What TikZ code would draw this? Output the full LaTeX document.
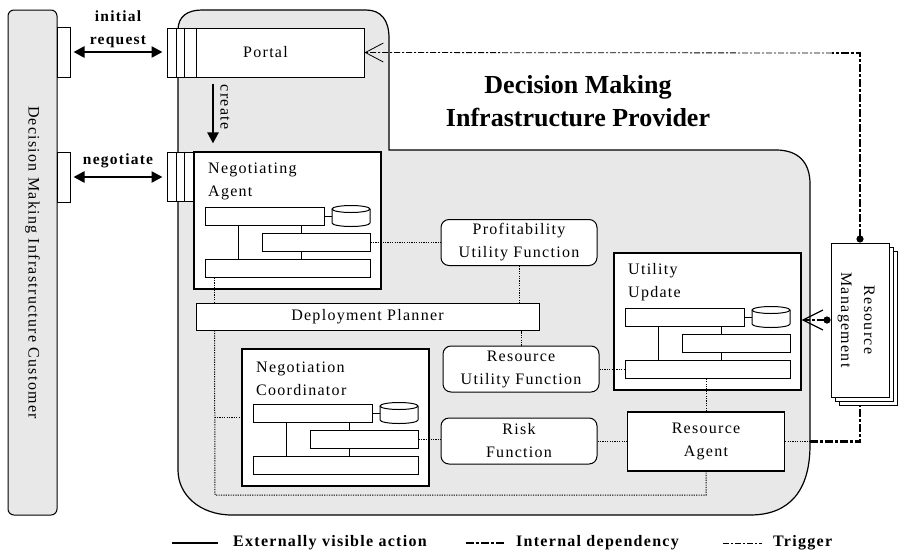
\documentclass[tikz,border=0pt]{standalone}
\usepackage{fontspec}
\setmainfont{Liberation Serif}[LetterSpace=8]
\newfontfamily\headfont{Liberation Serif}
\usepackage{tikz}
\usetikzlibrary{arrows.meta, positioning, shadows, calc}
\definecolor{panel}{HTML}{E8E8E8}

\begin{document}
\begin{tikzpicture}
  [
    x=1pt, y=-1pt,
    every node/.style={font=\fontsize{16}{23}\selectfont},
    Box/.style={draw, fill=white, line width=1pt, inner sep=0pt},
    Port/.style={Box, minimum width=13pt, minimum height=50pt},
    Func/.style={Box, rounded corners=8pt, minimum width=156pt, minimum height=46pt, align=center},
    Bar/.style={Box, minimum height=18pt},
    Label/.style={font=\fontsize{15.5}{23}\selectfont\bfseries, align=center, inner sep=0pt},
    Action/.style={line width=2.5pt, {Triangle[length=11pt,width=11pt]}-{Triangle[length=11pt,width=11pt]}},
    Depend/.style={line width=1pt, dash pattern=on 1.2pt off 1.2pt},
    Internal/.style={line width=2.5pt, dash pattern=on 8pt off 2pt on 3pt off 2pt},
    Trigger/.style={line width=0.8pt, dash pattern=on 6pt off 2pt on 2pt off 2pt},
    pics/component/.style={code={
      \node[Box, line width=1.2pt, minimum width=187pt, minimum height=137pt] (-box) at (93.5,68.5) {};
      \node[align=left, anchor=west, inner sep=0pt] (-name) at (14,29.5) {#1};
      \node[Bar, minimum width=119pt] (-bar1) at (70.5,64) {};
      \node[Bar, minimum width=108pt] (-bar2) at (122,90) {};
      \node[Bar, minimum width=165pt] (-bar3) at (93.5,116) {};
      % store
      \draw[line width=1pt, fill=white] (138,57) -- (138,71) arc[start angle=180, end angle=0, x radius=19, y radius=3.5] -- (176,57);
      \draw[line width=1pt, fill=white] (157,57) ellipse[x radius=19, y radius=3.5];
      % links between the parts
      \draw[line width=1pt] (130,64) -- (138,64);
      \draw[line width=1pt] (44,73) -- (44,107);
      \draw[line width=1pt] (107,73) -- (107,81) (107,99) -- (107,107);
    }}
  ]
  \useasboundingbox (0,0) rectangle (901,552);

  % Provider area
  \draw[fill=panel, line width=1.2pt] (178,470) -- (178,30)
    .. controls (178,16) and (188,10) .. (202,10) -- (366,10)
    .. controls (381,10) and (389,20) .. (389,38) -- (389,150) -- (776,150)
    .. controls (798,150) and (810,162) .. (810,184) -- (810,445)
    .. controls (810,490) and (790,515) .. (750,515) -- (232,515)
    .. controls (200,515) and (178,495) .. (178,470) -- cycle;
  \node[font=\fontsize{26}{33}\selectfont\headfont\bfseries, align=center] (provtitle) at (578,101) {Decision Making\\Infrastructure Provider};

  % Customer
  \node[draw, fill=panel, line width=1pt, rounded corners=6pt, rotate=-90, minimum width=505pt, minimum height=49pt, inner sep=0pt] (customer) at (32.5,262.5) {Decision Making Infrastructure Customer};
  \node[Port] (cport1) at (63.5,52) {};
  \node[Port] (cport2) at (63.5,177) {};

  % Nodes (x, y)
  \node[Box, minimum width=197pt, minimum height=49pt] (portal) at (265.5,52.5) {Portal};
  \foreach \dx in {10,18,30}
    \draw[line width=1pt] ([xshift=\dx pt]portal.north west) -- ([xshift=\dx pt]portal.south west);
  \node[Box, minimum width=27pt, minimum height=49pt] (nastrip) at (180.5,176.5) {};
  \foreach \dx in {10,18}
    \draw[line width=1pt] ([xshift=\dx pt]nastrip.north west) -- ([xshift=\dx pt]nastrip.south west);

  \pic (na) at (194,152) {component={Negotiating\\Agent}};
  \pic (nc) at (242,349) {component={Negotiation\\Coordinator}};
  \pic (uu) at (614,253) {component={Utility\\Update}};

  \node[Func] (profit) at (519,242.5) {Profitability\\Utility Function};
  \node[Box, minimum width=343pt, minimum height=27pt] (planner) at (367.5,316.5) {Deployment Planner};
  \node[Func] (resfunc) at (521,369) {Resource\\Utility Function};
  \node[Func] (risk) at (519,441) {Risk\\Function};
  \node[Box, line width=1.5pt, minimum width=157pt, minimum height=59pt, align=center] (ragent) at (706,441.5) {Resource\\Agent};

  \node[Box, minimum width=58pt, minimum height=154pt,
    double copy shadow={shadow xshift=4pt, shadow yshift=-4pt, draw=black, fill=white, line width=1pt}] (rm) at (860,320) {};
  \node[rotate=-90, align=center] (rmtext) at ([xshift=-4pt]rm.center) {Resource\\Management};

  % Labels
  \node[Label] (reqlabel) at (118,29) {initial\\request};
  \node[Label] (neglabel) at (118,161) {negotiate};
  \node[rotate=-90] (createlabel) at (225,107) {create};

  % Lines
  % initial request
  \draw[Action, shorten <=3pt, shorten >=4pt] (cport1.east) -- (cport1.east -| portal.west);
  % negotiate
  \draw[Action, shorten <=3pt, shorten >=4pt] (cport2.east) -- (cport2.east -| nastrip.west);
  % portal creates the agent
  \draw[line width=2.5pt, -{Triangle[length=11pt,width=11pt]}, shorten <=6pt, shorten >=8pt]
    ([xshift=-52.5pt]portal.south) -- ([xshift=-52.5pt]portal.south |- na-box.north);

  % agent -> profitability -> planner -> resource utility
  \draw[Depend] (na-bar2.east) -- (na-bar2.east -| profit.west);
  \draw[Depend] (profit.south) -- (profit.south |- planner.north);
  \draw[Depend] (resfunc.north) -- (resfunc.north |- planner.south);
  \draw[Depend] (resfunc.east) -- (resfunc.east -| uu-bar3.west);
  % coordinator -> risk -> resource agent
  \draw[Depend] (nc-bar2.east) -- (nc-bar2.east -| risk.west);
  \draw[Depend] (risk.east) -- (risk.east -| ragent.west);
  \draw[Depend] (ragent.north) -- (ragent.north |- uu-bar3.south);
  % loop round the planner and coordinator
  \coordinate (loopnw) at ([xshift=10pt]na-bar3.south west);
  \coordinate (loopsw) at (215,495);
  \draw[Depend] (loopnw) -- (loopnw |- planner.north);
  \draw[Depend] (loopnw |- planner.south) -- (loopsw) -| (ragent.south);
  \draw[Depend] (loopnw |- nc-box.west) -- (nc-box.west);

  % resource management
  \coordinate (raedge) at (810,441.5);
  \coordinate (trigcorner) at (860,53);
  \coordinate (trigjoin) at (832,53);
  \draw[Depend] (ragent.east) -- (raedge);
  \draw[Internal] (raedge) -| ([yshift=-8pt]rm.south);
  \draw[Internal, {Circle[length=7pt]}-] (rm.north) -- (trigcorner) -- (trigjoin);
  \draw[Trigger, -{Straight Barb[length=18pt,width=19pt]}] (trigjoin) -- (portal.east);
  \draw[Internal, {Circle[length=7pt]}-{Straight Barb[length=20pt,width=20pt,line width=1.2pt]}]
    (rm.west) -- (rm.west -| uu-box.east);

  % Legend
  \node[Label, anchor=west, font=\fontsize{16}{23}\selectfont\bfseries] (legaction) at (233,543) {Externally visible action};
  \node[Label, anchor=west, font=\fontsize{16}{23}\selectfont\bfseries] (leginternal) at (516,543) {Internal dependency};
  \node[Label, anchor=west, font=\fontsize{16}{23}\selectfont\bfseries] (legtrigger) at (773,543) {Trigger};
  \draw[line width=1.2pt] ([xshift=-61pt]legaction.west) -- ([xshift=-15pt]legaction.west);
  \draw[Internal, line width=2pt] ([xshift=-50pt]leginternal.west) -- ([xshift=-11pt]leginternal.west);
  \draw[Trigger, line width=1pt] ([xshift=-50pt]legtrigger.west) -- ([xshift=-11pt]legtrigger.west);

\end{tikzpicture}
\end{document}
